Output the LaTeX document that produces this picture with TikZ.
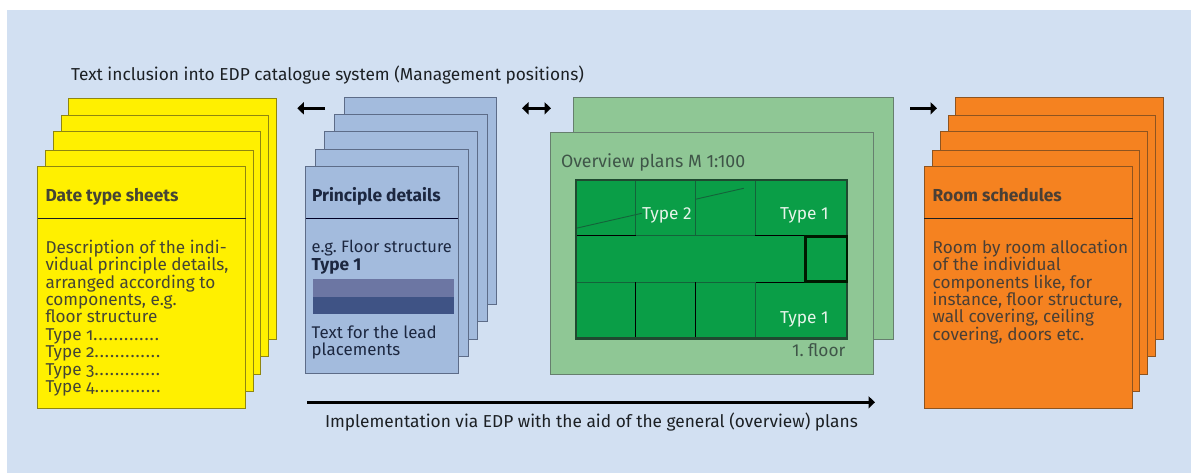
\documentclass[tikz,border=0pt]{standalone}
\usepackage{fontspec}
\setmainfont{Fira Sans}[Numbers=OldStyle]
\newfontfamily\liningface{Fira Sans}[Numbers=Lining]
\frenchspacing
\usetikzlibrary{arrows.meta}
\definecolor{panelbg}{HTML}{D2E0F2}
\definecolor{yellowfill}{HTML}{FFF000}
\definecolor{yellowedge}{HTML}{8F8610}
\definecolor{bluefill}{HTML}{A3BBDD}
\definecolor{blueedge}{HTML}{5D6C88}
\definecolor{greenfill}{HTML}{8FC795}
\definecolor{greenedge}{HTML}{667F6E}
\definecolor{orangefill}{HTML}{F58220}
\definecolor{orangeedge}{HTML}{8E5420}
\definecolor{planfill}{HTML}{0A9E47}
\definecolor{planedge}{HTML}{1F4A30}
\definecolor{plandark}{HTML}{14633A}
\definecolor{bartop}{HTML}{6C76A3}
\definecolor{barbottom}{HTML}{3F5385}
\definecolor{inkgrey}{HTML}{454535}
\definecolor{inkorange}{HTML}{4A3F35}
\definecolor{inknavy}{HTML}{1C2740}
\definecolor{inkgreen}{HTML}{3F5548}
\definecolor{inkwhite}{HTML}{E6F4EA}
\definecolor{inkblack}{HTML}{1C2024}
\newcommand{\sheetbox}[6]{\node[sheetbase,#1,minimum width=#5pt,minimum height=#6pt] (#2) at (#3,#4) {};}
\newcommand{\dotrun}{\def\dd{.\kern1pt}\dd\dd\dd\dd\dd\dd\dd\dd\dd\dd\dd\dd\dd}
\tikzset{
  x=1pt,y=-1pt,
  sheetbase/.style={anchor=north west,inner sep=0pt,outer sep=0pt,line width=1pt},
  yellowsheet/.style={draw=yellowedge,fill=yellowfill},
  bluesheet/.style={draw=blueedge,fill=bluefill},
  greensheet/.style={draw=greenedge,fill=greenfill},
  orangesheet/.style={draw=orangeedge,fill=orangefill},
  label/.style={anchor=base west,inner sep=0pt,outer sep=0pt,font=\fontsize{17.3}{17.4}\selectfont},
  body/.style={anchor=north west,inner sep=0pt,outer sep=0pt,align=left,font=\fontsize{17.15}{17.4}\selectfont},
  bluebody/.style={anchor=north west,inner sep=0pt,outer sep=0pt,align=left,font=\fontsize{16.5}{17.4}\selectfont},
  head/.style={anchor=base west,inner sep=0pt,outer sep=0pt,font=\fontsize{17.35}{17.4}\selectfont\bfseries},
  plantext/.style={anchor=base west,inner sep=0pt,outer sep=0pt,text=inkwhite,font=\fontsize{17.3}{17.4}\selectfont\liningface},
  bigarrow/.style={line width=2.6pt,black,-{Triangle[length=6.5pt,width=12pt]}},
  twoarrow/.style={line width=2.6pt,black,{Triangle[length=6.5pt,width=12pt]}-{Triangle[length=6.5pt,width=12pt]}},
  divider/.style={line width=1pt},
  thinwall/.style={line width=1.1pt,black},
  softwall/.style={line width=1.1pt,plandark},
}
\begin{document}
\begin{tikzpicture}
\useasboundingbox (0,0) rectangle (1191,473);
\fill[panelbg] (7,10) rectangle (1191,473);

% yellow stack
\sheetbox{yellowsheet}{y5}{68.7}{98.3}{208}{241}
\sheetbox{yellowsheet}{y4}{61}{115.3}{207.7}{241.4}
\sheetbox{yellowsheet}{y3}{53}{132}{207.7}{242.3}
\sheetbox{yellowsheet}{y2}{45.3}{150.3}{207.7}{240.7}
\sheetbox{yellowsheet}{y1}{37.5}{166.6}{208}{242}
\coordinate (ydl) at (37.5,218.3); \coordinate (ydr) at (245.5,218.3);
\draw[divider,inkblack] (ydl) -- (ydr);
\node[head,text=inkgrey] (yhead) at (45.5,201) {Date type sheets};
\node[body,text=inkgrey] (ybody) at (45.5,240) {Description of the indi-\\vidual principle details,\\arranged according to\\components, e.g.\\floor structure\\Type 1\dotrun\\Type 2\dotrun\\Type 3\dotrun\\Type 4\dotrun};

% blue stack
\sheetbox{bluesheet}{b5}{344}{97.3}{152.7}{207}
\sheetbox{bluesheet}{b4}{334.3}{114.7}{153}{207}
\sheetbox{bluesheet}{b3}{324.5}{131.3}{153.2}{207.7}
\sheetbox{bluesheet}{b2}{315.3}{149.3}{153}{207}
\sheetbox{bluesheet}{b1}{305.7}{166.4}{152.6}{207.3}
\coordinate (bdl) at (305.7,218.3); \coordinate (bdr) at (458.3,218.3);
\draw[divider,black!85!blue] (bdl) -- (bdr);
\node[head,text=inknavy] (bhead) at (312,201) {Principle details};
\node[bluebody,text=inknavy] (bbody) at (311.7,240.3) {e.g. Floor structure\\{\liningface\bfseries\fontsize{17.3}{17.4}\selectfont Type 1}};
\fill[bartop] (313,279) rectangle (454,296.7);
\fill[barbottom] (313,296.7) rectangle (454,313.7);
\node[body,text=inknavy,font=\fontsize{16.9}{17.4}\selectfont] (bfoot) at (311.7,325.5) {Text for the lead\\placements};

% green stack
\sheetbox{greensheet}{g2}{573.3}{97.3}{320}{242.4}
\sheetbox{greensheet}{g1}{550.3}{132.3}{323}{242}
\node[label,text=inkgreen,font=\fontsize{17.75}{17.4}\selectfont] (gtitle) at (561,167.5) {\liningface Overview plans M 1:100};
\node[label,text=inkgreen] (gfloor) at (792,356) {\liningface 1. floor};

% plan
\node[sheetbase,fill=planfill,draw=none,minimum width=272.7pt,minimum height=159.7pt] (plan) at (575,179.3) {};
\draw[softwall] (635.7,180) -- (635.7,235.7);
\draw[softwall] (695.3,180) -- (695.3,235.7);
\draw[thinwall,plandark] (755.3,180) -- (755.3,235.7);
\draw[softwall] (636,235.7) -- (755.3,235.7);
\draw[thinwall] (576,235.7) -- (636,235.7);
\draw[thinwall] (755.3,235.2) -- (847,235.2);
\draw[softwall] (576,282.3) -- (755,282.3);
\draw[thinwall] (755,282.3) -- (847,282.3);
\draw[thinwall] (635.7,180) -- (695.3,180);
\draw[thinwall] (635.7,282.3) -- (635.7,338);
\draw[thinwall] (695.3,282.3) -- (695.3,338);
\draw[thinwall,plandark] (755.3,282.3) -- (755.3,338);
\draw[line width=0.9pt,plandark] (576,228.3) -- (641.7,213.3);
\draw[line width=0.9pt,plandark] (695.3,199.3) -- (743.7,188.3);
\draw[line width=2.2pt,planedge] (575.7,180.2) rectangle (847.2,338.4);
\draw[line width=2.2pt,black!90!green] (805.5,236.5) rectangle (846.8,281.5);
\node[plantext] (t2) at (642,219) {Type 2};
\node[plantext] (t1a) at (780,219) {Type 1};
\node[plantext] (t1b) at (780,323) {Type 1};

% orange stack
\sheetbox{orangesheet}{o5}{955.5}{98}{208.2}{241.3}
\sheetbox{orangesheet}{o4}{948}{115.3}{207.7}{241.4}
\sheetbox{orangesheet}{o3}{940.3}{132}{207.4}{242.3}
\sheetbox{orangesheet}{o2}{932.3}{150.3}{207.4}{241}
\sheetbox{orangesheet}{o1}{924.3}{166.4}{207.7}{242.3}
\coordinate (odl) at (924.3,218.3); \coordinate (odr) at (1132.5,218.3);
\draw[divider,inkblack] (odl) -- (odr);
\node[head,text=inkorange] (ohead) at (932.7,201) {Room schedules};
\node[body,text=inkorange] (obody) at (932.7,240) {Room by room allocation\\of the individual\\components like, for\\instance, floor structure,\\wall covering, ceiling\\covering, doors etc.};

% captions
\node[label,text=inkblack] (toptext) at (71,80.4) {Text inclusion into EDP catalogue system (Management positions)};
\node[label,text=inkblack] (bottext) at (325,427) {Implementation via EDP with the aid of the general (overview) plans};

% arrows
\coordinate (a1s) at (325,108.3); \coordinate (a1e) at (297.3,108.3);
\draw[bigarrow] (a1s) -- (a1e);
\coordinate (a2s) at (522,108.3); \coordinate (a2e) at (551,108.3);
\draw[twoarrow] (a2s) -- (a2e);
\coordinate (a3s) at (910,108.3); \coordinate (a3e) at (937,108.3);
\draw[bigarrow] (a3s) -- (a3e);
\coordinate (a4s) at (307,402.3); \coordinate (a4e) at (875,402.3);
\draw[bigarrow] (a4s) -- (a4e);
\end{tikzpicture}
\end{document}
